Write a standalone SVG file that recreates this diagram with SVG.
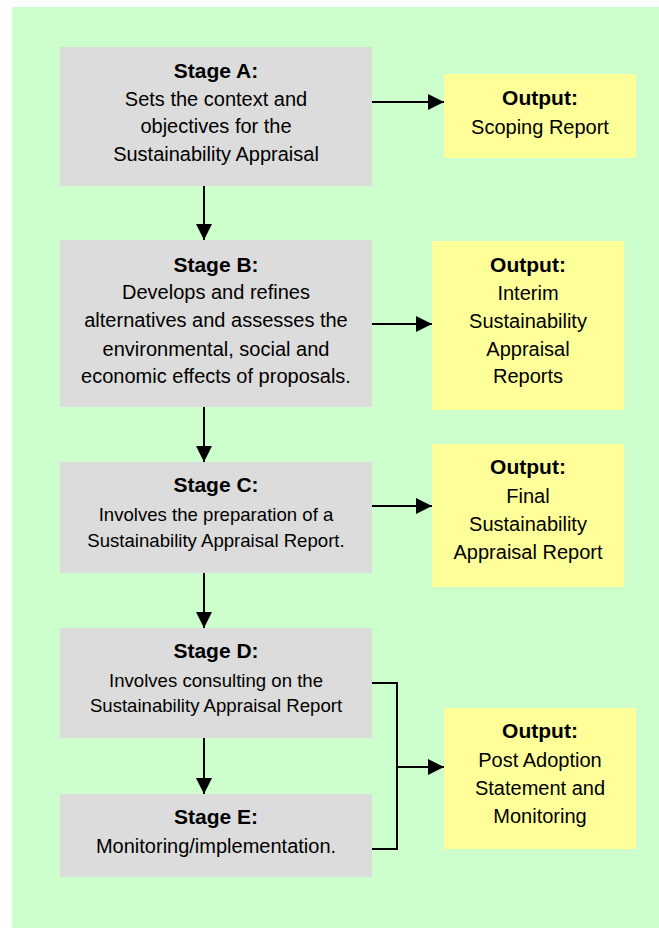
<svg xmlns="http://www.w3.org/2000/svg" width="659" height="929" viewBox="0 0 659 929">
<style>
.stage{fill:#DCDCDC}
.out{fill:#FFFF99}
text{font-family:"Liberation Sans",Arial,sans-serif;fill:#000;text-anchor:middle}
.h{font-weight:bold;font-size:21px}
.t{font-size:20px}
.s{font-size:18.6px}
.c{stroke:#000;stroke-width:2;fill:none}
</style>
<defs>
<marker id="ah" markerUnits="userSpaceOnUse" markerWidth="16" markerHeight="16" refX="16" refY="8" orient="auto">
<path d="M0,0 L16,8 L0,16 z" fill="#000"/>
</marker>
</defs>
<rect x="0" y="0" width="659" height="929" fill="#fff"/>
<rect x="12" y="7" width="647" height="921" fill="#CCFFCC"/>

<g id="stageA">
<rect class="stage" x="60" y="47" width="312" height="139"/>
<text class="h" x="216" y="78">Stage A:</text>
<text class="t" x="216" y="106">Sets the context and</text>
<text class="t" x="216" y="133">objectives for the</text>
<text class="t" x="216" y="161">Sustainability Appraisal</text>
</g>
<g id="outputA">
<rect class="out" x="444" y="74" width="192" height="84"/>
<text class="h" x="540" y="105">Output:</text>
<text class="t" x="540" y="134">Scoping Report</text>
</g>

<g id="stageB">
<rect class="stage" x="60" y="240" width="312" height="167"/>
<text class="h" x="216" y="272">Stage B:</text>
<text class="t" x="216" y="299">Develops and refines</text>
<text class="t" x="216" y="327">alternatives and assesses the</text>
<text class="t" x="216" y="356">environmental, social and</text>
<text class="t" x="216" y="383">economic effects of proposals.</text>
</g>
<g id="outputB">
<rect class="out" x="432" y="241" width="192" height="169"/>
<text class="h" x="528" y="272">Output:</text>
<text class="t" x="528" y="300">Interim</text>
<text class="t" x="528" y="328">Sustainability</text>
<text class="t" x="528" y="356">Appraisal</text>
<text class="t" x="528" y="383">Reports</text>
</g>

<g id="stageC">
<rect class="stage" x="60" y="462" width="312" height="111"/>
<text class="h" x="216" y="492">Stage C:</text>
<text class="s" x="216" y="521">Involves the preparation of a</text>
<text class="s" x="216" y="547">Sustainability Appraisal Report.</text>
</g>
<g id="outputC">
<rect class="out" x="432" y="444" width="192" height="143"/>
<text class="h" x="528" y="474">Output:</text>
<text class="t" x="528" y="503">Final</text>
<text class="t" x="528" y="531">Sustainability</text>
<text class="t" x="528" y="559">Appraisal Report</text>
</g>

<g id="stageD">
<rect class="stage" x="60" y="628" width="312" height="110"/>
<text class="h" x="216" y="658">Stage D:</text>
<text class="s" x="216" y="687">Involves consulting on the</text>
<text class="s" x="216" y="712">Sustainability Appraisal Report</text>
</g>
<g id="stageE">
<rect class="stage" x="60" y="794" width="312" height="83"/>
<text class="h" x="216" y="824">Stage E:</text>
<text class="t" x="216" y="853">Monitoring/implementation.</text>
</g>
<g id="outputD">
<rect class="out" x="444" y="708" width="192" height="141"/>
<text class="h" x="540" y="738">Output:</text>
<text class="t" x="540" y="767">Post Adoption</text>
<text class="t" x="540" y="795">Statement and</text>
<text class="t" x="540" y="823">Monitoring</text>
</g>

<g id="connectors">
<line class="c" x1="204" y1="186" x2="204" y2="240" marker-end="url(#ah)"/>
<line class="c" x1="204" y1="407" x2="204" y2="462" marker-end="url(#ah)"/>
<line class="c" x1="204" y1="573" x2="204" y2="628" marker-end="url(#ah)"/>
<line class="c" x1="204" y1="738" x2="204" y2="794" marker-end="url(#ah)"/>
<line class="c" x1="372" y1="102" x2="444" y2="102" marker-end="url(#ah)"/>
<line class="c" x1="372" y1="324" x2="432" y2="324" marker-end="url(#ah)"/>
<line class="c" x1="372" y1="506" x2="432" y2="506" marker-end="url(#ah)"/>
<polyline class="c" points="372,683 397,683 397,849 372,849"/>
<line class="c" x1="397" y1="767" x2="444" y2="767" marker-end="url(#ah)"/>
</g>
</svg>
